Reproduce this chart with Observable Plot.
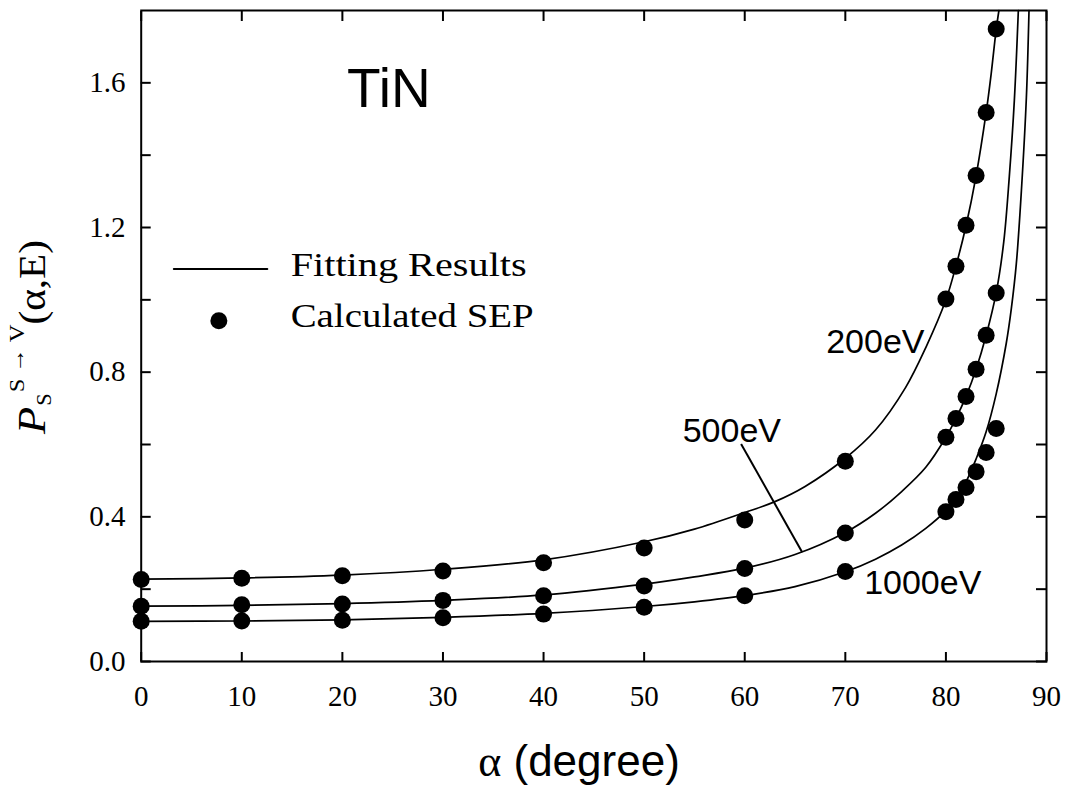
<!DOCTYPE html>
<html>
<head>
<meta charset="utf-8">
<script src="https://cdn.jsdelivr.net/npm/d3@7"></script>
<script src="https://cdn.jsdelivr.net/npm/@observablehq/plot@0.6"></script>
<style>
  body { margin: 0; background: #fff; }
  #chart svg { display: block; }
</style>
</head>
<body>
<div id="chart"></div>
<script>
// ---- Data ----
const energies = ["200eV", "500eV", "1000eV"];

// Calculated SEP (dots)
const sepAngles = [0, 10, 20, 30, 40, 50, 60, 70, 80, 81, 82, 83, 84, 85];
const sep200  = [0.227, 0.230, 0.237, 0.250, 0.273, 0.314, 0.391, 0.554, 1.002, 1.093, 1.206, 1.344, 1.518, 1.749];
const sep500  = [0.153, 0.157, 0.159, 0.169, 0.182, 0.209, 0.257, 0.355, 0.620, 0.672, 0.733, 0.808, 0.902, 1.019];
const sep1000 = [0.111, 0.112, 0.114, 0.121, 0.131, 0.150, 0.182, 0.249, 0.414, 0.448, 0.481, 0.525, 0.578, 0.644];

// Fitting results (curves)
const fitAngles200 = [0, 10, 20, 30, 40, 50, 55, 60, 63, 66, 70, 73, 76, 78, 80, 81, 82, 83, 84, 84.5, 85, 85.27];
const fit200       = [0.228, 0.231, 0.239, 0.255, 0.281, 0.331, 0.366, 0.412, 0.442, 0.484, 0.562, 0.640, 0.758, 0.868, 1.0, 1.094, 1.205, 1.343, 1.518, 1.625, 1.748, 1.8];
const fitAngles500 = [0, 10, 20, 30, 40, 50, 55, 60, 65, 70, 73, 75.6, 78, 80, 81, 82, 83, 84, 85, 85.75, 86.3, 86.8, 87.2];
const fit500       = [0.153, 0.155, 0.160, 0.169, 0.184, 0.214, 0.234, 0.258, 0.296, 0.357, 0.41, 0.47, 0.537, 0.62, 0.672, 0.733, 0.808, 0.902, 1.02, 1.16, 1.34, 1.55, 1.8];
const fitAngles1000 = [0, 10, 20, 30, 40, 50, 55, 60, 65, 70, 73, 75.6, 78, 80, 81, 82, 83, 84, 85, 86, 86.5, 87, 87.5, 88, 88.26];
const fit1000       = [0.111, 0.112, 0.115, 0.122, 0.133, 0.152, 0.165, 0.182, 0.207, 0.248, 0.283, 0.322, 0.368, 0.417, 0.452, 0.497, 0.56, 0.635, 0.74, 0.88, 0.975, 1.1, 1.3, 1.56, 1.8];

// Axis ticks
const xTicks = [0, 10, 20, 30, 40, 50, 60, 70, 80, 90];
const yLabelTicks = [0, 0.4, 0.8, 1.2, 1.6];
const yAllTicks = [0, 0.2, 0.4, 0.6, 0.8, 1.0, 1.2, 1.4, 1.6];

// Annotations (data units)
const titleLabel = [{text: "TiN", alpha: 20.47, value: 1.532}];
const energyLabels = [
  {text: "200eV", alpha: 68.1, value: 0.854},
  {text: "500eV", alpha: 53.83, value: 0.606},
  {text: "1000eV", alpha: 71.87, value: 0.187}
];
const leader500 = [{a1: 59.64, v1: 0.6015, a2: 65.71, v2: 0.302}];
const legendLine = [{alpha: 3.24, value: 1.085}, {alpha: 12.54, value: 1.085}];
const legendDot = [{alpha: 7.72, value: 0.942}];
const legendTexts = [
  {text: "Fitting Results", alpha: 14.86, value: 1.066},
  {text: "Calculated SEP", alpha: 14.86, value: 0.924}
];

// ---- Build tidy tables ----
const sepSeries = [sep200, sep500, sep1000];
const points = energies.flatMap((e, i) => sepAngles.map((a, j) => ({energy: e, alpha: a, value: sepSeries[i][j]})));
const fitAngleSeries = [fitAngles200, fitAngles500, fitAngles1000];
const fitSeries = [fit200, fit500, fit1000];
const fits = energies.flatMap((e, i) => fitAngleSeries[i].map((a, j) => ({energy: e, alpha: a, value: fitSeries[i][j]})));

const SERIF = "'Liberation Serif', 'Times New Roman', Times, serif";
const SANS = "'Liberation Sans', Arial, Helvetica, sans-serif";

const plot = Plot.plot({
  width: 1067,
  height: 787,
  marginLeft: 140.7,
  marginRight: 21,
  marginTop: 10,
  marginBottom: 126,
  x: {domain: [0, 90]},
  y: {domain: [0, 1.8]},
  style: {fontFamily: SERIF, fontSize: "28px", color: "black", background: "white"},
  marks: [
    Plot.frame({stroke: "black", strokeWidth: 2}),
    // inward ticks on all four sides
    Plot.axisX({anchor: "bottom", ticks: xTicks, tickSize: -9, tickFormat: () => "", label: null, strokeWidth: 2}),
    Plot.axisX({anchor: "top", ticks: xTicks, tickSize: -10, tickFormat: () => "", label: null, strokeWidth: 2}),
    Plot.axisY({anchor: "left", ticks: yAllTicks, tickSize: -10, tickFormat: () => "", label: null, strokeWidth: 2}),
    Plot.axisY({anchor: "right", ticks: yAllTicks, tickSize: -11, tickFormat: () => "", label: null, strokeWidth: 2}),
    // tick labels
    Plot.axisX({anchor: "bottom", ticks: xTicks, tickSize: 0, tickPadding: 24, tickFormat: d3.format("d"), label: null, fontSize: 29, fontFamily: SERIF}),
    Plot.axisY({anchor: "left", ticks: yLabelTicks, tickSize: 0, tickPadding: 15.7, tickFormat: d3.format(".1f"), label: null, fontSize: 29, fontFamily: SERIF}),
    // fitting curves
    Plot.line(fits, {x: "alpha", y: "value", z: "energy", stroke: "black", strokeWidth: 1.7, curve: "catmull-rom"}),
    // calculated SEP
    Plot.dot(points, {x: "alpha", y: "value", r: 8.5, fill: "black", stroke: "none"}),
    // annotations
    Plot.text(titleLabel, {x: "alpha", y: "value", text: "text", textAnchor: "start", lineAnchor: "bottom", fontFamily: SANS, fontSize: 55}),
    Plot.text(energyLabels, {x: "alpha", y: "value", text: "text", textAnchor: "start", lineAnchor: "bottom", fontFamily: SANS, fontSize: 34}),
    Plot.link(leader500, {x1: "a1", y1: "v1", x2: "a2", y2: "v2", stroke: "black", strokeWidth: 2}),
    // legend
    Plot.line(legendLine, {x: "alpha", y: "value", stroke: "black", strokeWidth: 2}),
    Plot.dot(legendDot, {x: "alpha", y: "value", r: 8.5, fill: "black", stroke: "none"}),
    Plot.text(legendTexts, {x: "alpha", y: "value", text: "text", textAnchor: "start", lineAnchor: "bottom", fontFamily: SERIF, fontSize: 34})
  ]
});

document.getElementById("chart").appendChild(plot);

const svg = d3.select(plot);

// stretch legend texts to the widths seen in the reference
const legendWidths = {"Fitting Results": 236, "Calculated SEP": 243};
svg.selectAll("text").each(function () {
  const t = this.textContent;
  if (legendWidths[t]) {
    d3.select(this).attr("textLength", legendWidths[t]).attr("lengthAdjust", "spacingAndGlyphs");
  }
});

// y-axis title: P_S^{S→V}(α,E)
const yl = svg.append("text")
  .attr("transform", "translate(45,434) rotate(-90)")
  .attr("text-anchor", "start")
  .attr("font-family", SERIF)
  .attr("fill", "black")
  .attr("textLength", 194)
  .attr("lengthAdjust", "spacingAndGlyphs");
yl.append("tspan").attr("font-style", "italic").attr("font-size", 40).text("P");
yl.append("tspan").attr("font-size", 20).attr("dy", 6).attr("dx", 1).text("S");
yl.append("tspan").attr("font-size", 22).attr("dy", -27).attr("dx", 1).text("S → V");
yl.append("tspan").attr("font-size", 37).attr("dy", 21).text("(α,E)");

// x-axis title: α (degree)
const xl = svg.append("text")
  .attr("x", 579)
  .attr("y", 776)
  .attr("text-anchor", "middle")
  .attr("font-family", SANS)
  .attr("font-size", 44)
  .attr("fill", "black");
xl.append("tspan").attr("font-family", SERIF).text("α");
xl.append("tspan").text(" (degree)");
</script>
</body>
</html>
